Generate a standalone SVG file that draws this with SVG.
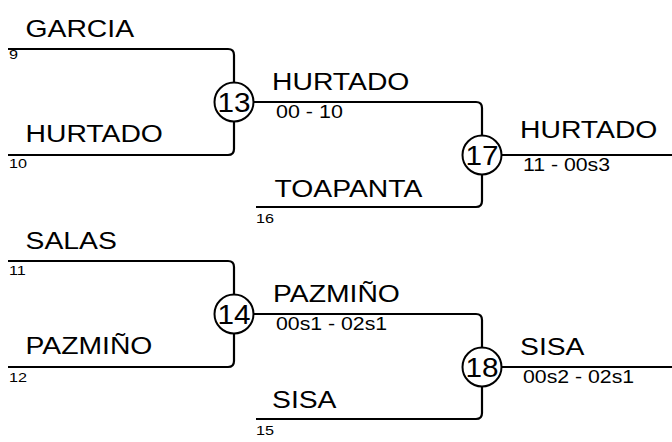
<svg xmlns="http://www.w3.org/2000/svg" width="672" height="442" viewBox="0 0 672 442">
<style>
.ln{fill:none;stroke:#000;stroke-width:2.2}
.c{fill:#fff;stroke:#000;stroke-width:2}
text{font-family:"Liberation Sans",Arial,sans-serif;fill:#000}
.nm{font-size:24px}
.sc{font-size:19px}
.sd{font-size:13.5px}
.num{font-size:27px;text-anchor:middle}
</style>
<rect width="672" height="442" fill="#fff"/>
<g id="connectors">
<path class="ln" d="M8,49 H228 Q234,49 234,55 V149 Q234,155 228,155 H8"/>
<path class="ln" d="M8,261 H228 Q234,261 234,267 V361 Q234,367 228,367 H8"/>
<path class="ln" d="M234,102 H476 Q482,102 482,108 V201 Q482,207 476,207 H256"/>
<path class="ln" d="M234,314 H476 Q482,314 482,320 V413 Q482,419 476,419 H256"/>
<path class="ln" d="M482,155 H672"/>
<path class="ln" d="M482,367 H672"/>
</g>
<g id="entrants">
<text class="nm" transform="translate(25.5,36.5) scale(1.18,1)">GARCIA</text>
<text class="sd" transform="translate(9,59) scale(1.2,1)">9</text>
<text class="nm" transform="translate(25.5,141.5) scale(1.18,1)">HURTADO</text>
<text class="sd" transform="translate(9,168) scale(1.2,1)">10</text>
<text class="nm" transform="translate(25.5,248.5) scale(1.18,1)">SALAS</text>
<text class="sd" transform="translate(9,275) scale(1.2,1)">11</text>
<text class="nm" transform="translate(25.5,354) scale(1.18,1)">PAZMIÑO</text>
<text class="sd" transform="translate(9,382) scale(1.2,1)">12</text>
<text class="nm" transform="translate(274.5,196.5) scale(1.18,1)">TOAPANTA</text>
<text class="sd" transform="translate(256,223) scale(1.2,1)">16</text>
<text class="nm" transform="translate(272,407.5) scale(1.18,1)">SISA</text>
<text class="sd" transform="translate(256,434.5) scale(1.2,1)">15</text>
</g>
<g id="match13">
<circle class="c" cx="234" cy="102" r="19.5"/>
<text class="num" transform="translate(234,111.5) scale(1.1,1)">13</text>
<text class="nm" transform="translate(272,89.5) scale(1.18,1)">HURTADO</text>
<text class="sc" transform="translate(276,117.5) scale(1.13,1)">00 - 10</text>
</g>
<g id="match14">
<circle class="c" cx="234" cy="314" r="19.5"/>
<text class="num" transform="translate(234,323.5) scale(1.1,1)">14</text>
<text class="nm" transform="translate(273,301.5) scale(1.18,1)">PAZMIÑO</text>
<text class="sc" transform="translate(276,329.5) scale(1.12,1)">00s1 - 02s1</text>
</g>
<g id="match17">
<circle class="c" cx="482" cy="155" r="19.5"/>
<text class="num" transform="translate(482,164.5) scale(1.1,1)">17</text>
<text class="nm" transform="translate(520,138) scale(1.18,1)">HURTADO</text>
<text class="sc" transform="translate(523,171) scale(1.12,1)">11 - 00s3</text>
</g>
<g id="match18">
<circle class="c" cx="482" cy="367" r="19.5"/>
<text class="num" transform="translate(482,376.5) scale(1.1,1)">18</text>
<text class="nm" transform="translate(520,355) scale(1.18,1)">SISA</text>
<text class="sc" transform="translate(523,383) scale(1.12,1)">00s2 - 02s1</text>
</g>
</svg>
